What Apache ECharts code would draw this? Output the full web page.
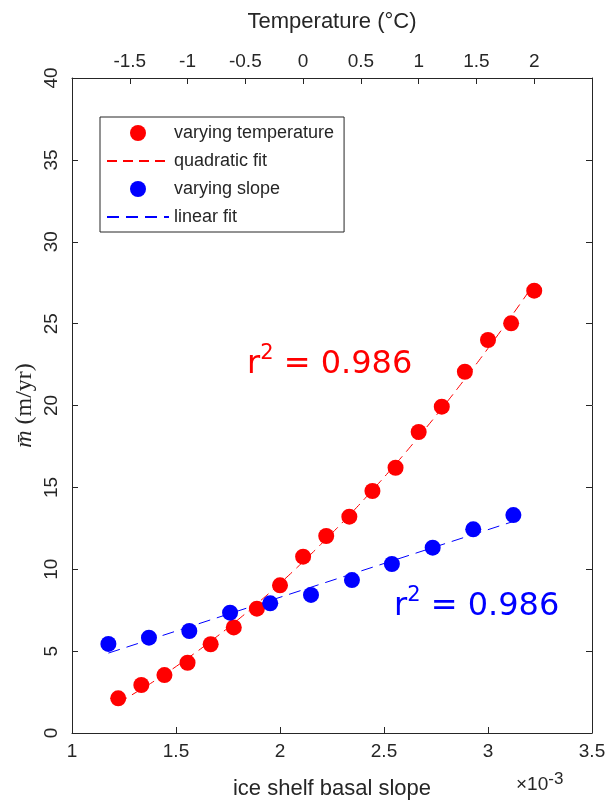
<!DOCTYPE html>
<html>
<head>
<meta charset="utf-8">
<style>
  html, body { margin: 0; padding: 0; background: #fff; }
  #chart { width: 607px; height: 800px; }
</style>
<script src="https://cdn.jsdelivr.net/npm/echarts@6/dist/echarts.min.js"></script>
</head>
<body>
<div id="chart"></div>
<script>
// Melt rate against ice shelf basal slope (bottom axis, x 10^-3)
// and against ocean temperature (top axis, degC).

// Temperature runs (plotted on the temperature axis)
const tempValues = [-1.6, -1.4, -1.2, -1.0, -0.8, -0.6, -0.4, -0.2, 0.0, 0.2,
                    0.4, 0.6, 0.8, 1.0, 1.2, 1.4, 1.6, 1.8, 2.0];
const tempMelt = [2.12, 2.93, 3.54, 4.29, 5.42, 6.45, 7.59, 9.02, 10.77, 12.03,
                  13.21, 14.78, 16.20, 18.38, 19.93, 22.06, 24.00, 25.02, 27.01];
const tempFit = [1.84, 2.68, 3.58, 4.56, 5.60, 6.71, 7.89, 9.14, 10.46, 11.85,
                 13.30, 14.83, 16.42, 18.09, 19.82, 21.62, 23.49, 25.43, 27.44];

// Slope runs (plotted on the slope axis)
const slopeValues = [1.175, 1.370, 1.564, 1.760, 1.953, 2.149, 2.346, 2.538, 2.734, 2.929, 3.122];
const slopeMelt = [5.44, 5.82, 6.23, 7.35, 7.92, 8.43, 9.34, 10.32, 11.32, 12.44, 13.31];
const slopeFitEnds = [[1.175, 4.88], [3.122, 12.92]];

const r2Temp = '0.986';
const r2Slope = '0.986';

const slopeTicks = { min: 1, max: 3.5, step: 0.5 };
const tempTicks = { min: -2, max: 2.5, step: 0.5 };
const meltTicks = { min: 0, max: 40, step: 5 };

const axisColor = '#262626';
const sansFont = 'Liberation Sans, Arial, sans-serif';

const chart = echarts.init(document.getElementById('chart'), null, { renderer: 'canvas' });

function baseAxis() {
  return {
    type: 'value',
    splitLine: { show: false },
    nameMoveOverlap: false,
    axisLine: { show: true, onZero: false, lineStyle: { color: axisColor, width: 1 } },
    axisTick: { show: true, inside: true, length: 6, lineStyle: { color: axisColor } },
    axisLabel: { color: axisColor, fontFamily: sansFont, fontSize: 19 },
    nameTextStyle: { color: axisColor, fontFamily: sansFont, fontSize: 22 }
  };
}

const xBottom = Object.assign(baseAxis(), {
  position: 'bottom',
  min: slopeTicks.min, max: slopeTicks.max, interval: slopeTicks.step,
  name: 'ice shelf basal slope', nameLocation: 'middle', nameGap: 45
});
xBottom.axisLabel = Object.assign({}, xBottom.axisLabel, { margin: 9, showMinLabel: true, showMaxLabel: true });

const xTop = Object.assign(baseAxis(), {
  position: 'top',
  min: tempTicks.min, max: tempTicks.max, interval: tempTicks.step,
  name: 'Temperature (\u00B0C)', nameLocation: 'middle', nameGap: 45
});
xTop.axisLabel = Object.assign({}, xTop.axisLabel, {
  margin: 7,
  formatter: v => (v === tempTicks.min || v === tempTicks.max) ? '' : String(v)
});

const yLeft = Object.assign(baseAxis(), {
  position: 'left',
  min: meltTicks.min, max: meltTicks.max, interval: meltTicks.step,
  name: '{m|m\u0304}{u| (m/yr)}', nameLocation: 'middle', nameGap: 35, nameRotate: 90
});
yLeft.axisLabel = Object.assign({}, yLeft.axisLabel, { rotate: 90, margin: 11 });
yLeft.nameTextStyle = {
  color: axisColor,
  rich: {
    m: { fontFamily: 'Liberation Serif, DejaVu Serif, serif', fontStyle: 'italic', fontSize: 24, color: axisColor },
    u: { fontFamily: 'Liberation Serif, DejaVu Serif, serif', fontSize: 24, color: axisColor }
  }
};

const yRight = Object.assign(baseAxis(), {
  position: 'right',
  min: meltTicks.min, max: meltTicks.max, interval: meltTicks.step
});
yRight.axisLabel = { show: false };

function r2Text(x, y, value, color) {
  return {
    type: 'text',
    x: x, y: y,
    style: {
      text: '{a|r}{s|2}{a| = ' + value + '}',
      verticalAlign: 'middle',
      rich: {
        a: { fontFamily: 'DejaVu Sans, sans-serif', fontSize: 32, lineHeight: 44, fill: color, color: color },
        s: { fontFamily: 'DejaVu Sans, sans-serif', fontSize: 21, lineHeight: 24, verticalAlign: 'top', fill: color, color: color }
      }
    }
  };
}

const option = {
  backgroundColor: '#ffffff',
  animation: false,
  grid: { left: 72, right: 15, top: 78, bottom: 67, containLabel: false, outerBoundsMode: 'none' },
  xAxis: [xBottom, xTop],
  yAxis: [yLeft, yRight],
  legend: {
    orient: 'vertical',
    left: 100, top: 117,
    padding: [7, 10, 6, 6],
    itemWidth: 62, itemHeight: 16, itemGap: 10,
    borderColor: axisColor, borderWidth: 1, backgroundColor: '#ffffff',
    textStyle: { color: axisColor, fontFamily: sansFont, fontSize: 18, lineHeight: 16 },
    data: [
      'varying temperature',
      { name: 'quadratic fit', itemStyle: { opacity: 0 } },
      'varying slope',
      { name: 'linear fit', itemStyle: { opacity: 0 } }
    ]
  },
  series: [
    {
      name: 'quadratic fit', type: 'line', xAxisIndex: 1, yAxisIndex: 0,
      data: tempValues.map((t, i) => [t, tempFit[i]]),
      smooth: true, symbol: 'none', z: 2,
      lineStyle: { color: '#ff0000', width: 1, type: [10, 6] },
      itemStyle: { color: '#ff0000' }
    },
    {
      name: 'linear fit', type: 'line', xAxisIndex: 0, yAxisIndex: 0,
      data: slopeFitEnds, symbol: 'none', z: 2,
      lineStyle: { color: '#0000ff', width: 1, type: [12, 7] },
      itemStyle: { color: '#0000ff' }
    },
    {
      name: 'varying temperature', type: 'scatter', xAxisIndex: 1, yAxisIndex: 0,
      data: tempValues.map((t, i) => [t, tempMelt[i]]),
      symbol: 'circle', symbolSize: 16, z: 3,
      itemStyle: { color: '#ff0000', opacity: 1 }
    },
    {
      name: 'varying slope', type: 'scatter', xAxisIndex: 0, yAxisIndex: 0,
      data: slopeValues.map((s, i) => [s, slopeMelt[i]]),
      symbol: 'circle', symbolSize: 16, z: 3,
      itemStyle: { color: '#0000ff', opacity: 1 }
    }
  ],
  graphic: [
    r2Text(247, 365, r2Temp, '#ff0000'),
    r2Text(394, 607, r2Slope, '#0000ff'),
    {
      type: 'text', x: 516, y: 785,
      style: {
        text: '{a|\u00D710}{s|-3}',
        verticalAlign: 'middle',
        rich: {
          a: { fontFamily: sansFont, fontSize: 19, lineHeight: 28, fill: axisColor, color: axisColor },
          s: { fontFamily: sansFont, fontSize: 17, lineHeight: 16, verticalAlign: 'top', fill: axisColor, color: axisColor }
        }
      }
    }
  ]
};

chart.setOption(option);
</script>
</body>
</html>
